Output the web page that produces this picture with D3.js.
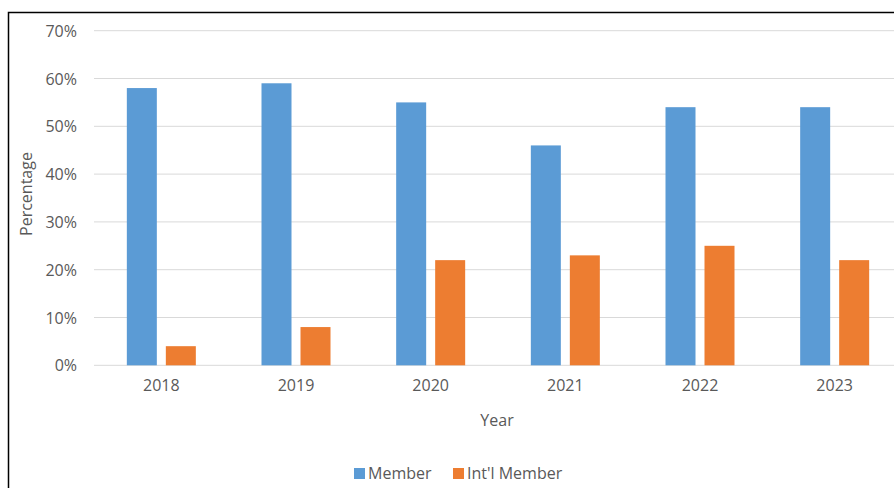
<!DOCTYPE html>
<html><head><meta charset="utf-8">
<script src="https://cdn.jsdelivr.net/npm/d3@7"></script>
<style>body{margin:0;background:#fff;}svg{display:block;}</style>
</head><body>
<svg id="c" width="894" height="488"></svg>
<script>
const years = ["2018","2019","2020","2021","2022","2023"];
const member = [58, 59, 55, 46, 54, 54];
const intlMember = [4, 8, 22, 23, 25, 22];
const seriesNames = ["Member", "Int'l Member"];
const colors = ["#5b9bd5", "#ed7d31"];
const yTicks = [0,10,20,30,40,50,60,70];

const svg = d3.select("#c");
const font = "'Open Sans', sans-serif";
const textColor = "#595959";

// frame
svg.append("rect").attr("x",8.5).attr("y",12.5).attr("width",900).attr("height",500)
  .attr("fill","none").attr("stroke","#000").attr("stroke-width",1.5);

const x0 = d3.scaleBand().domain(years).range([94, 902]).paddingInner(0).paddingOuter(0);
const y = d3.scaleLinear().domain([0,70]).range([365.3, 30.7]);

// grid
svg.append("g").selectAll("line").data(yTicks).join("line")
  .attr("x1",94).attr("x2",894).attr("y1",d=>y(d)).attr("y2",d=>y(d))
  .attr("stroke","#d9d9d9").attr("stroke-width",1);

// y axis labels
const yAxis = d3.axisLeft(y).tickValues(yTicks).tickFormat(d=>d+"%").tickSize(0).tickPadding(0);
const ga = svg.append("g").attr("transform","translate(77,0)").call(yAxis);
ga.select(".domain").remove();
ga.selectAll("text").attr("font-family",font).attr("font-size",16).attr("fill",textColor).attr("dy","0.35em");

// bars
const bw = 30, gap = 9;
const data = years.map((yr,i)=>({yr, vals:[member[i], intlMember[i]]}));
const groups = svg.append("g").selectAll("g").data(data).join("g");
groups.selectAll("rect").data(d=>d.vals.map((v,j)=>({yr:d.yr,v,j}))).join("rect")
  .attr("x",d=>x0(d.yr)+x0.bandwidth()/2 + (d.j===0 ? -(bw+gap/2) : gap/2))
  .attr("width",bw)
  .attr("y",d=>y(d.v)).attr("height",d=>y(0)-y(d.v))
  .attr("fill",d=>colors[d.j]);

// x axis
const xAxis = d3.axisBottom(x0).tickSize(0).tickPadding(0);
const gx = svg.append("g").attr("transform",`translate(0,${y(0)})`).call(xAxis);
gx.select(".domain").remove();
gx.selectAll("text").attr("font-family",font).attr("font-size",16).attr("fill",textColor)
  .attr("y",26).attr("dy",0);

// axis titles
svg.append("text").attr("x",497).attr("y",426).attr("text-anchor","middle")
  .attr("font-family",font).attr("font-size",16).attr("fill",textColor).text("Year");
svg.append("text").attr("transform","translate(32,194) rotate(-90)").attr("text-anchor","middle")
  .attr("font-family",font).attr("font-size",16).attr("fill",textColor).text("Percentage");

// legend
const legendX = [354, 453];
seriesNames.forEach((n,i)=>{
  svg.append("rect").attr("x",legendX[i]).attr("y",468).attr("width",11).attr("height",11).attr("fill",colors[i]);
  svg.append("text").attr("x",legendX[i]+14).attr("y",479).attr("font-family",font)
    .attr("font-size",16).attr("fill",textColor).text(n);
});
</script>
</body></html>
